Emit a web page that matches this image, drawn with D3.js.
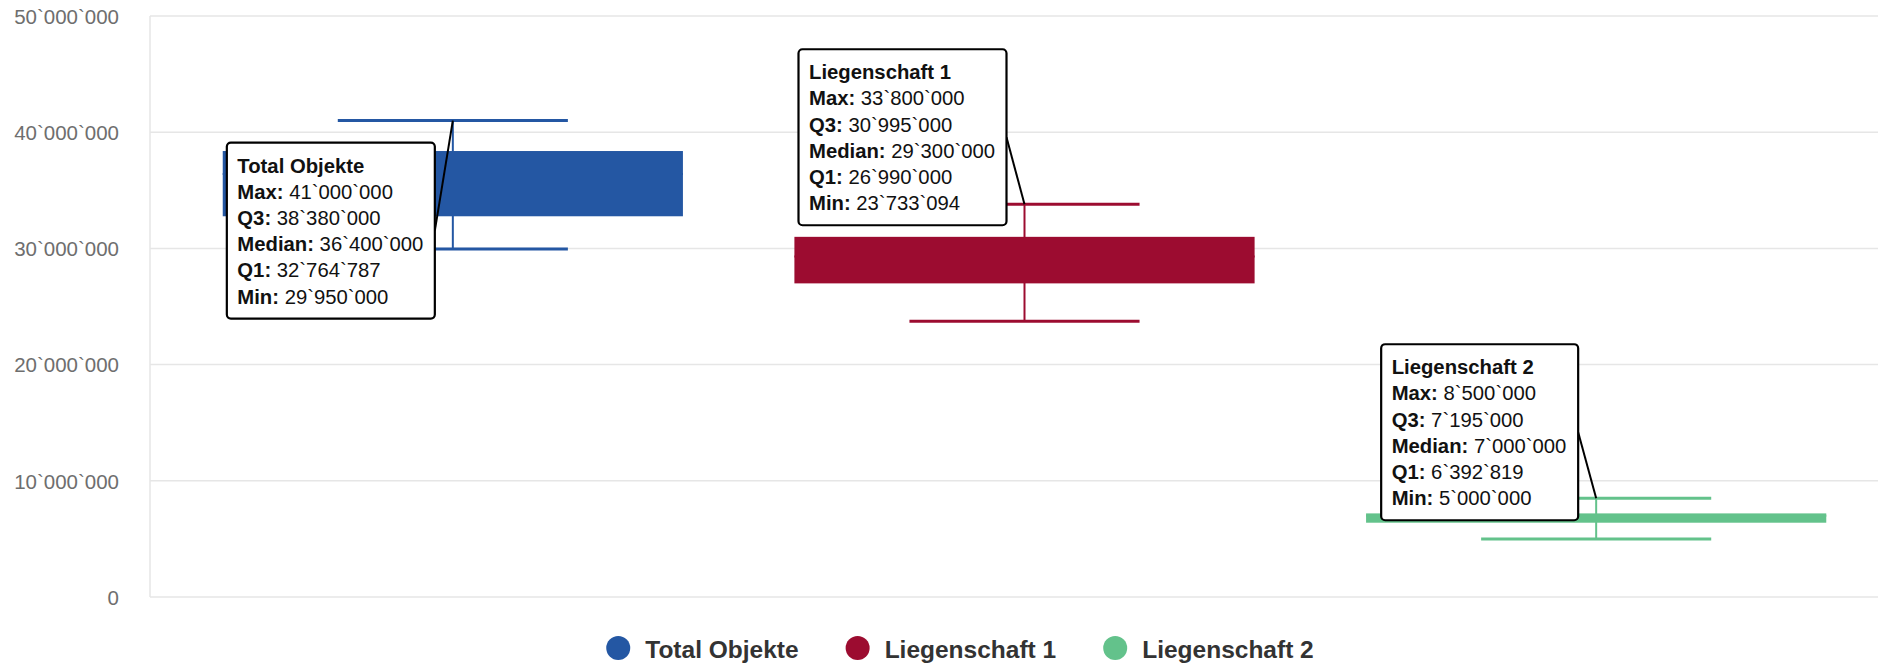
<!DOCTYPE html>
<html>
<head>
<meta charset="utf-8">
<script src="https://cdn.jsdelivr.net/npm/d3@7"></script>
<style>
  html, body { margin: 0; padding: 0; background: #fff; }
  svg { display: block; font-family: "Liberation Sans", Arial, sans-serif; }
</style>
</head>
<body>
<svg id="chart" width="1878" height="664"></svg>
<script>
// ---- data ----
const categories = ["Total Objekte", "Liegenschaft 1", "Liegenschaft 2"];
const maxValues    = [41000000, 33800000, 8500000];
const q3Values     = [38380000, 30995000, 7195000];
const medianValues = [36400000, 29300000, 7000000];
const q1Values     = [32764787, 26990000, 6392819];
const minValues    = [29950000, 23733094, 5000000];
const colors       = ["#2457a3", "#9c0c30", "#63c28b"];
const yTicks       = [0, 10000000, 20000000, 30000000, 40000000, 50000000];
const tooltipLabels = ["Max", "Q3", "Median", "Q1", "Min"];

// ---- layout ----
const W = 1878, H = 664;
const plotLeft = 150, plotRight = 1878, plotTop = 16, plotBottom = 597;
const tooltipDy = [22, -155, -154]; // tooltip top relative to anchor (max point)

const loc = d3.formatLocale({decimal: ".", thousands: "`", grouping: [3], currency: ["", ""]});
const fmt = loc.format(",d");

const svg = d3.select("#chart");
svg.append("rect").attr("width", W).attr("height", H).attr("fill", "#fff");

const x = d3.scaleBand().domain(categories).range([167, 1882]).padding(0);
const y = d3.scaleLinear().domain([0, 50000000]).range([plotBottom, plotTop]);

// grid lines
svg.append("g").selectAll("line").data(yTicks).join("line")
  .attr("x1", plotLeft).attr("x2", plotRight)
  .attr("y1", d => y(d)).attr("y2", d => y(d))
  .attr("stroke", "#e6e6e6").attr("stroke-width", 1.5);
svg.append("line")
  .attr("x1", plotLeft).attr("x2", plotLeft)
  .attr("y1", y(50000000)).attr("y2", y(0))
  .attr("stroke", "#e6e6e6").attr("stroke-width", 1.5);

// y axis
const yAxis = d3.axisLeft(y).tickValues(yTicks).tickFormat(fmt).tickSize(0).tickPadding(0);
const gy = svg.append("g").attr("transform", `translate(119,0)`).call(yAxis);
gy.select(".domain").remove();
gy.selectAll("text")
  .attr("font-family", "'Liberation Sans', Arial, sans-serif")
  .attr("font-size", 20.5).attr("fill", "#6e6e6e").attr("dy", "0.36em");

// boxes
const data = categories.map((c, i) => ({
  name: c, max: maxValues[i], q3: q3Values[i], median: medianValues[i],
  q1: q1Values[i], min: minValues[i], color: colors[i], i
}));

const boxW = x.bandwidth() * 0.805;
const g = svg.append("g");
data.forEach(d => {
  const cx = x(d.name) + x.bandwidth() / 2;
  const gg = g.append("g");
  gg.append("line").attr("x1", cx).attr("x2", cx)
    .attr("y1", y(d.max)).attr("y2", y(d.min))
    .attr("stroke", d.color).attr("stroke-width", 2);
  gg.append("rect")
    .attr("x", cx - boxW / 2).attr("width", boxW)
    .attr("y", y(d.q3)).attr("height", y(d.q1) - y(d.q3))
    .attr("fill", d.color);
  gg.append("line").attr("x1", cx - boxW / 2).attr("x2", cx + boxW / 2)
    .attr("y1", y(d.median)).attr("y2", y(d.median))
    .attr("stroke", d.color).attr("stroke-width", 2);
  [d.max, d.min].forEach(v => {
    gg.append("line").attr("x1", cx - boxW / 4).attr("x2", cx + boxW / 4)
      .attr("y1", y(v)).attr("y2", y(v))
      .attr("stroke", d.color).attr("stroke-width", 3);
  });
});

// tooltips
const tg = svg.append("g");
data.forEach(d => {
  const ax = x(d.name) + x.bandwidth() / 2;
  const ay = y(d.max);
  const grp = tg.append("g");
  const vals = [d.max, d.q3, d.median, d.q1, d.min];
  const fs = 20.3;
  const text = grp.append("text").attr("font-size", fs).attr("fill", "#111");
  text.append("tspan").attr("x", 0).attr("y", 30).attr("font-weight", "bold").text(d.name);
  tooltipLabels.forEach((lab, k) => {
    const t = text.append("tspan").attr("x", 0).attr("y", 30 + 26.2 * (k + 1));
    t.append("tspan").attr("font-weight", "bold").text(lab + ": ");
    t.append("tspan").text(fmt(vals[k]));
  });
  const tw = text.node().getBBox().width;
  const bw = Math.round(tw + 22), bh = 176;
  const right = ax - 18;
  const left = right - bw;
  const top = ay + tooltipDy[d.i];
  grp.insert("line", "text")
    .attr("x1", right).attr("y1", top + bh / 2)
    .attr("x2", ax).attr("y2", ay)
    .attr("stroke", "#000").attr("stroke-width", 2);
  grp.insert("rect", "text")
    .attr("x", left).attr("y", top).attr("width", bw).attr("height", bh)
    .attr("rx", 4).attr("ry", 4)
    .attr("fill", "#fff").attr("stroke", "#000").attr("stroke-width", 2.2);
  text.attr("transform", `translate(${left + 10.5},${top})`);
});

// legend
const lg = svg.append("g");
let lx = 0;
data.forEach(d => {
  const it = lg.append("g");
  it.append("circle").attr("cx", 0).attr("cy", 0).attr("r", 12).attr("fill", d.color);
  const t = it.append("text").attr("x", 27).attr("y", 9.5)
    .attr("font-size", 24.5).attr("font-weight", "bold").attr("fill", "#333").text(d.name);
  const w = t.node().getComputedTextLength();
  it.attr("transform", `translate(${lx},0)`);
  lx += 12 + 27 + w + 47;
});
const totalW = lx - 47 + 12;
const legendCenter = 966;
lg.attr("transform", `translate(${legendCenter - totalW / 2 + 12},648)`);
</script>
</body>
</html>
